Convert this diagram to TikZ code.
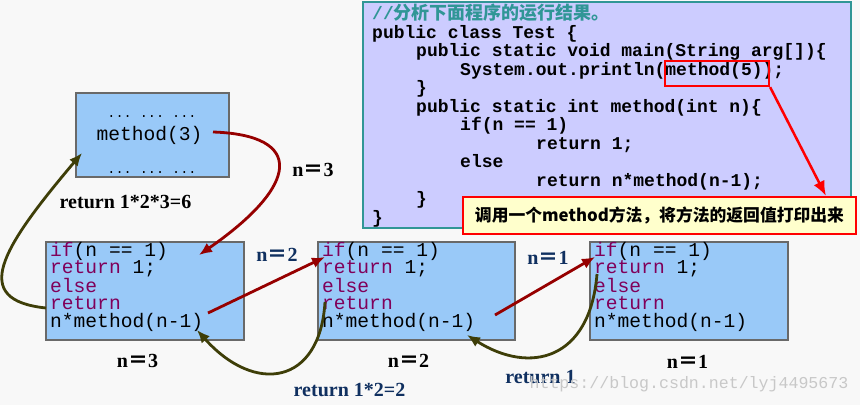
\documentclass[tikz,border=0pt]{standalone}
\usepackage{fontspec}
\setmainfont{Liberation Serif}
\setmonofont{Liberation Mono}
\newfontfamily\cjkfont{Noto Sans CJK SC}
\usepackage{tikz}
\usetikzlibrary{arrows.meta}
\pgfdeclarelayer{edgelayer}
\pgfdeclarelayer{nodelayer}
\pgfsetlayers{nodelayer,main,edgelayer}
\definecolor{pagebg}{RGB}{248,248,248}
\definecolor{boxblue}{RGB}{153,201,248}
\definecolor{boxedge}{RGB}{105,105,105}
\definecolor{codebg}{RGB}{204,204,255}
\definecolor{codeteal}{RGB}{48,150,150}
\definecolor{keyword}{RGB}{128,0,90}
\definecolor{callred}{RGB}{150,0,0}
\definecolor{retolive}{RGB}{62,62,8}
\definecolor{labelnavy}{RGB}{16,48,96}
\definecolor{noteyellow}{RGB}{255,255,204}
\newcommand{\kw}[1]{\textcolor{keyword}{#1}}
\newcommand{\nval}[1]{n{\cjkfont ＝}#1}
\tikzstyle{none}=[inner sep=0pt]
\tikzstyle{frame_unit}=[fill=boxblue, draw=boxedge, line width=1.2pt, shape=rectangle, inner sep=0pt]
\tikzstyle{code_panel}=[fill=codebg, draw=codeteal, line width=2pt, shape=rectangle, inner sep=0pt]
\tikzstyle{note_box}=[fill=noteyellow, draw=red, line width=1.2pt, shape=rectangle, inner sep=0pt, font=\cjkfont\bfseries\fontsize{16.8}{18}\selectfont]
\tikzstyle{code_lines}=[inner sep=0pt, anchor=base west, align=left, font=\ttfamily\fontsize{19.6}{17.3}\selectfont]
\tikzstyle{main_code}=[inner sep=0pt, anchor=base west, font=\ttfamily\bfseries\fontsize{18}{18.5}\selectfont]
\tikzstyle{black_label}=[inner sep=0pt, anchor=base, font=\bfseries\fontsize{20}{20}\selectfont]
\tikzstyle{navy_label}=[black_label, text=labelnavy]
\tikzstyle{call_connector}=[-{Latex[length=13pt,width=11pt]}, draw=callred, line width=2.8pt]
\tikzstyle{return_connector}=[-{Latex[length=13pt,width=11pt]}, draw=retolive, line width=2.8pt]
\tikzstyle{note_connector}=[-{Latex[length=15pt,width=12pt]}, draw=red, line width=2.5pt]

\begin{document}
\begin{tikzpicture}[x=1pt, y=-1pt]
    \useasboundingbox (0,0) rectangle (860,405);
    \begin{pgfonlayer}{nodelayer}
        \fill [pagebg] (0,0) rectangle (860,405);

        % java source at the top
        \node [style=code_panel, minimum width=488pt, minimum height=226pt] (90) at (607,115) {};

        % caller box
        \node [style=frame_unit, minimum width=153pt, minimum height=84pt] (0) at (152.5,135) {};

        % one box per call
        \node [style=frame_unit, minimum width=198pt, minimum height=98pt] (10) at (145,291) {};
        \node [style=frame_unit, minimum width=197pt, minimum height=98pt] (20) at (416.5,291) {};
        \node [style=frame_unit, minimum width=198pt, minimum height=98pt] (30) at (689,291) {};
    \end{pgfonlayer}

    % source lines
    \node [style=main_code] (40) at (372,19) {\textcolor{codeteal}{//{\cjkfont 分析下面程序的运行结果。}}};
    \node [style=main_code] (41) at (372,38) {public class Test \{};
    \node [style=main_code] (42) at (416,56.5) {public static void main(String arg[])\{};
    \node [style=main_code] (43) at (460,75) {System.out.println(method(5));};
    \node [style=main_code] (44) at (416,93.5) {\}};
    \node [style=main_code] (45) at (416,112) {public static int method(int n)\{};
    \node [style=main_code] (46) at (460,130.5) {if(n == 1)};
    \node [style=main_code] (47) at (536,149) {return 1;};
    \node [style=main_code] (48) at (460,167.5) {else};
    \node [style=main_code] (49) at (536,186) {return n*method(n-1);};
    \node [style=main_code] (50) at (416,204.5) {\}};
    \node [style=main_code] (51) at (372,223) {\}};

    % the call marked in red and its note
    \node [draw=red, line width=2.2pt, minimum width=104pt, minimum height=25pt, inner sep=0pt] (60) at (717,73.5) {};
    \node [style=note_box, minimum width=393pt, minimum height=37pt] (70) at (659.5,215.5) {调用一个method方法，将方法的返回值打印出来};

    % caller text
    \node [style=none, anchor=base, font=\ttfamily\fontsize{13.5}{14}\selectfont] (1) at (152,117) {... ... ...};
    \node [style=none, anchor=base, font=\ttfamily\fontsize{19.6}{20}\selectfont] (2) at (149.5,140) {method(3)};
    \node [style=none, anchor=base, font=\ttfamily\fontsize{13.5}{14}\selectfont] (3) at (152,173) {... ... ...};

    % body of method in each box (base = last line)
    \node [style=code_lines] (11) at (50,327) {\kw{if}(n == 1)\\\kw{return} 1;\\\kw{else}\\\kw{return}\\n*method(n-1)};
    \node [style=code_lines] (21) at (322,327) {\kw{if}(n == 1)\\\kw{return} 1;\\\kw{else}\\\kw{return}\\n*method(n-1)};
    \node [style=code_lines] (31) at (594,327) {\kw{if}(n == 1)\\\kw{return} 1;\\\kw{else}\\\kw{return}\\n*method(n-1)};

    % labels
    \node [style=black_label] (12) at (137.5,367) {\nval{3}};
    \node [style=black_label] (22) at (408.5,367) {\nval{2}};
    \node [style=black_label] (32) at (687.5,368) {\nval{1}};
    \node [style=black_label] (4) at (313,176) {\nval{3}};
    \node [style=black_label] (5) at (125.5,208) {return 1*2*3=6};
    \node [style=navy_label] (13) at (277,261) {\nval{2}};
    \node [style=navy_label] (23) at (548,264) {\nval{1}};
    \node [style=navy_label] (14) at (349.5,396) {return 1*2=2};
    \node [style=navy_label] (24) at (540.5,383) {return 1};

    % watermark
    \node [style=none, font=\ttfamily\fontsize{16.6}{17}\selectfont, text={rgb,255: red,200; green,200; blue,200}] (80) at (689,384) {https://blog.csdn.net/lyj4495673};

    % docking points for the arrows
    \coordinate (101) at (213,132);
    \coordinate (102) at (199,255);
    \coordinate (103) at (208,313);
    \coordinate (104) at (325,257);
    \coordinate (105) at (495,315);
    \coordinate (106) at (595,257);
    \coordinate (107) at (597,274);
    \coordinate (108) at (467,335);
    \coordinate (109) at (325,302);
    \coordinate (110) at (197,330);
    \coordinate (111) at (46,308);
    \coordinate (112) at (82,153);
    \coordinate (113) at (826,196);

    \begin{pgfonlayer}{edgelayer}
        \draw [style=call_connector] (101) .. controls (305,135) and (300,185) .. (102);
        \draw [style=call_connector] (103) -- (104);
        \draw [style=call_connector] (105) -- (106);
        \draw [style=return_connector] (107) .. controls (590,360) and (530,375) .. (108);
        \draw [style=return_connector] (109) .. controls (320,385) and (255,395) .. (110);
        \draw [style=return_connector] (111) .. controls (-30,300) and (0,250) .. (112);
        \draw [style=note_connector] (60.south east) -- (113);
    \end{pgfonlayer}
\end{tikzpicture}
\end{document}
